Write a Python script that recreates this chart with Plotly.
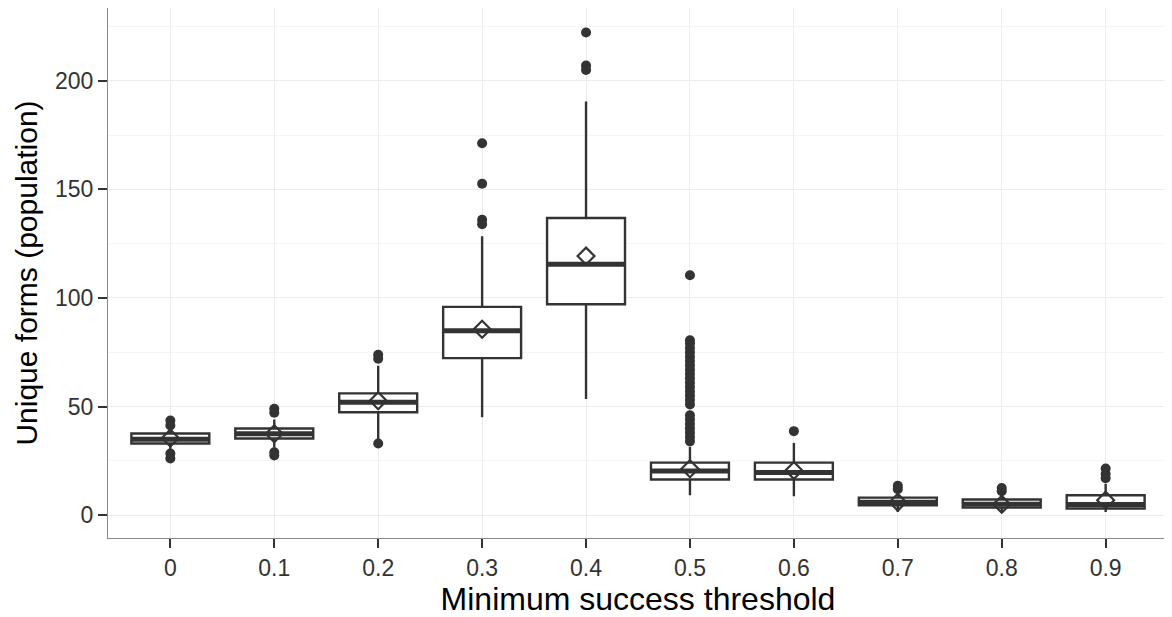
import plotly.graph_objects as go

# ---- data ----
thresholds = ["0", "0.1", "0.2", "0.3", "0.4", "0.5", "0.6", "0.7", "0.8", "0.9"]
q1 = [33.0, 35.3, 47.4, 72.3, 97.1, 16.4, 16.4, 4.6, 3.5, 3.1]
median = [35.0, 37.5, 52.0, 84.9, 115.5, 20.3, 19.6, 6.0, 5.0, 4.9]
q3 = [37.6, 39.9, 56.1, 95.9, 136.8, 24.2, 24.2, 8.1, 7.2, 9.2]
lower_whisker = [30.0, 31.0, 35.0, 45.1, 53.5, 9.2, 8.7, 1.5, 1.4, 1.5]
upper_whisker = [40.0, 44.0, 68.8, 128.4, 190.4, 31.5, 33.2, 10.0, 9.0, 14.5]
means = [35.5, 37.5, 52.7, 85.6, 119.3, 21.4, 20.6, 6.0, 5.0, 6.9]
outliers = [
    [43.6, 41.3, 28.4, 26.1],
    [49.0, 47.2, 29.0, 27.5],
    [73.9, 72.0, 33.0],
    [171.2, 152.6, 136.0, 134.0],
    [222.2, 207.0, 205.0],
    [34, 36, 38, 40, 42, 44, 46, 51, 53, 55, 57, 59, 61, 63, 65, 67, 69,
     71, 73, 75, 77, 79, 80.5, 110.5],
    [38.7],
    [13.5, 12.0],
    [12.5, 11.0],
    [21.5, 19.0, 17.0],
]

DARK = "#333333"
BOX_W = 0.75
pos = list(range(len(thresholds)))

fig = go.Figure()

fig.add_trace(go.Box(
    x=pos, q1=q1, median=median, q3=q3,
    lowerfence=lower_whisker, upperfence=upper_whisker,
    width=BOX_W, whiskerwidth=0, boxpoints=False,
    fillcolor="white", line=dict(color=DARK, width=2.4),
    showlegend=False, hoverinfo="skip",
))

# thicker median lines (ggplot style)
mx, my = [], []
for i, m in zip(pos, median):
    mx += [i - BOX_W / 2, i + BOX_W / 2, None]
    my += [m, m, None]
fig.add_trace(go.Scatter(x=mx, y=my, mode="lines",
                         line=dict(color=DARK, width=5),
                         showlegend=False, hoverinfo="skip"))

# outliers
ox, oy = [], []
for i, vals in zip(pos, outliers):
    ox += [i] * len(vals)
    oy += vals
fig.add_trace(go.Scatter(x=ox, y=oy, mode="markers",
                         marker=dict(color=DARK, size=10),
                         showlegend=False, hoverinfo="skip"))

# means as open (unfilled) diamonds
fig.add_trace(go.Scatter(x=pos, y=means, mode="markers",
                         marker=dict(symbol="diamond-open", size=13, color=DARK,
                                     line=dict(color=DARK, width=2.2)),
                         showlegend=False, hoverinfo="skip"))

font_family = "Liberation Sans, Arial, Helvetica, sans-serif"

# the page body has an 8px margin, so the figure is sized to fit the window
fig.update_layout(
    width=1164, height=609,
    margin=dict(l=100, r=4, t=0, b=79, autoexpand=False),
    paper_bgcolor="white", plot_bgcolor="white",
    font=dict(family=font_family, color="black"),
    xaxis=dict(
        range=[-0.6, 9.6],
        tickmode="array", tickvals=pos, ticktext=thresholds,
        ticks="outside", ticklen=9, tickwidth=2, tickcolor=DARK,
        tickfont=dict(size=23, color="#333333"),
        showgrid=True, gridcolor="#ececec", gridwidth=1,
        zeroline=False,
        showline=True, mirror=True, linecolor="#8a8a8a", linewidth=1,
        title=dict(text="Minimum success threshold",
                   font=dict(size=32, color="black"), standoff=8),
    ),
    yaxis=dict(
        range=[-10.5, 233.5],
        tickmode="array", tickvals=[0, 50, 100, 150, 200],
        ticks="outside", ticklen=9, tickwidth=2, tickcolor=DARK,
        tickfont=dict(size=23, color="#333333"),
        showgrid=True, gridcolor="#ececec", gridwidth=1,
        minor=dict(tickvals=[25, 75, 125, 175, 225], showgrid=True,
                   gridcolor="#f5f5f5", gridwidth=1, ticks=""),
        zeroline=False,
        showline=True, mirror=True, linecolor="#8a8a8a", linewidth=1,
        title=dict(text="Unique forms (population)",
                   font=dict(size=30, color="black"), standoff=8),
    ),
)

fig.write_html("out.html")
